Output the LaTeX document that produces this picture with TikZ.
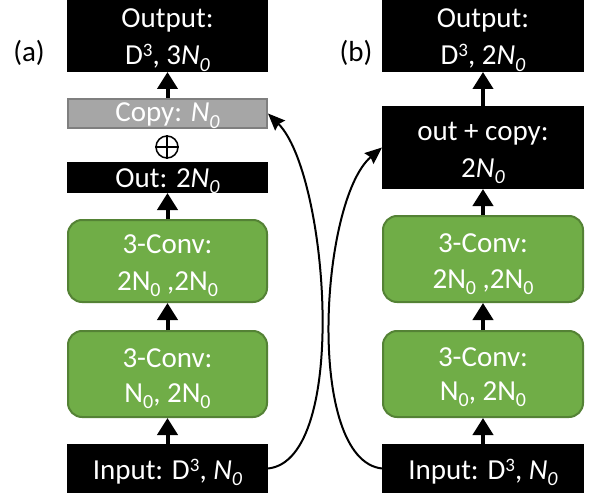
\documentclass[tikz,border=0pt]{standalone}
\usepackage{fontspec}
\setmainfont{Carlito}
\usetikzlibrary{arrows.meta}
\definecolor{gfill}{HTML}{70AD47}
\definecolor{gdraw}{HTML}{548235}
\definecolor{cfill}{HTML}{A6A6A6}
\definecolor{cdraw}{HTML}{7F7F7F}
\newcommand{\mysub}[1]{\raisebox{-6.5pt}{\fontsize{20}{20}\selectfont #1}}
\newcommand{\mysup}[1]{\raisebox{8pt}{\fontsize{19}{19}\selectfont #1}}
\newcommand{\Nit}{\textit{N}\mysub{\textit{0}}}
\newcommand{\Nup}{N\mysub{0}}
\begin{document}
\begin{tikzpicture}[x=1pt,y=-1pt,
  blk/.style={rectangle, fill=black, inner sep=0pt, outer sep=0pt},
  cpy/.style={rectangle, fill=cfill, draw=cdraw, line width=2pt, inner sep=0pt},
  grn/.style={rectangle, rounded corners=14pt, fill=gfill, draw=gdraw, line width=2pt, inner sep=0pt},
  txt/.style={text=white, font=\fontsize{29}{36}\selectfont, anchor=base, inner sep=0pt, outer sep=0pt},
  lbl/.style={text=black, font=\fontsize{29}{36}\selectfont, anchor=base, inner sep=0pt},
  up/.style={line width=4pt, -{Triangle[width=20pt,length=17pt]}},
  curv/.style={line width=2pt, -{Stealth[inset=2pt,width=14pt,length=17pt]}}
]
\useasboundingbox (0,0) rectangle (598,495);
% left column boxes
\node[blk, minimum width=201pt, minimum height=72pt] (oA) at (167.5,36) {};
\node[cpy, minimum width=199pt, minimum height=29pt] (cpA) at (167.5,113.5) {};
\node[blk, minimum width=201pt, minimum height=31pt] (otA) at (167.5,177.5) {};
\node[grn, minimum width=199pt, minimum height=82pt] (g1A) at (167.5,261) {};
\node[grn, minimum width=199pt, minimum height=86pt] (g2A) at (167.5,374) {};
\node[blk, minimum width=201pt, minimum height=49pt] (inA) at (167.5,468.5) {};
% right column boxes
\node[blk, minimum width=202pt, minimum height=72pt] (oB) at (483,36) {};
\node[blk, minimum width=202pt, minimum height=83pt] (ocB) at (483,147.5) {};
\node[grn, minimum width=200pt, minimum height=86pt] (g1B) at (483,259) {};
\node[grn, minimum width=200pt, minimum height=86pt] (g2B) at (483,374) {};
\node[blk, minimum width=202pt, minimum height=49pt] (inB) at (483,468.5) {};
% left texts
\node[txt] (toA1) at (167.5,28) {Output:};
\node[txt] (toA2) at (167.5,65) {D\mysup{3}, 3\Nit};
\node[txt] (tcA) at (167.5,122) {Copy: \Nit};
\node[txt] (ttA) at (167.5,187) {Out: 2\Nit};
\node[txt] (tg1A1) at (167.5,253) {3-Conv:};
\node[txt] (tg1A2) at (167.5,290) {2\Nup\ ,2\Nup};
\node[txt] (tg2A1) at (167.5,367) {3-Conv:};
\node[txt] (tg2A2) at (167.5,402) {\Nup, 2\Nup};
\node[txt] (tiA) at (167.5,479) {Input: D\mysup{3}, \Nit};
% right texts
\node[txt] (toB1) at (483,28) {Output:};
\node[txt] (toB2) at (483,65) {D\mysup{3}, 2\Nit};
\node[txt] (tcB1) at (483,140) {out + copy:};
\node[txt] (tcB2) at (483,177) {2\Nit};
\node[txt] (tg1B1) at (483,252) {3-Conv:};
\node[txt] (tg1B2) at (483,288) {2\Nup\ ,2\Nup};
\node[txt] (tg2B1) at (483,366) {3-Conv:};
\node[txt] (tg2B2) at (483,400) {\Nup, 2\Nup};
\node[txt] (tiB) at (483,479) {Input: D\mysup{3}, \Nit};
% panel labels
\node[lbl] (la) at (29,62) {(a)};
\node[lbl] (lb) at (356,62) {(b)};
% oplus
\node[circle, draw=black, line width=1.5pt, minimum size=22pt, inner sep=0pt] (op) at (167,147) {};
\draw[line width=1.5pt] (op.north) -- (op.south) (op.west) -- (op.east);
% vertical arrows
\draw[up] (inA.north) -- (g2A.south);
\draw[up] (g2A.north) -- (g1A.south);
\draw[up] (g1A.north) -- (otA.south);
\draw[up] (cpA.north) -- (oA.south);
\draw[up] (inB.north) -- (g2B.south);
\draw[up] (g2B.north) -- (g1B.south);
\draw[up] (g1B.north) -- (ocB.south);
\draw[up] (ocB.north) -- (oB.south);
% skip connections
\draw[curv] (inA.east) .. controls (350,460) and (328,173) .. (cpA.east);
\draw[curv] (inB.west) .. controls (305,460) and (320,200) .. (ocB.west);
\end{tikzpicture}
\end{document}
